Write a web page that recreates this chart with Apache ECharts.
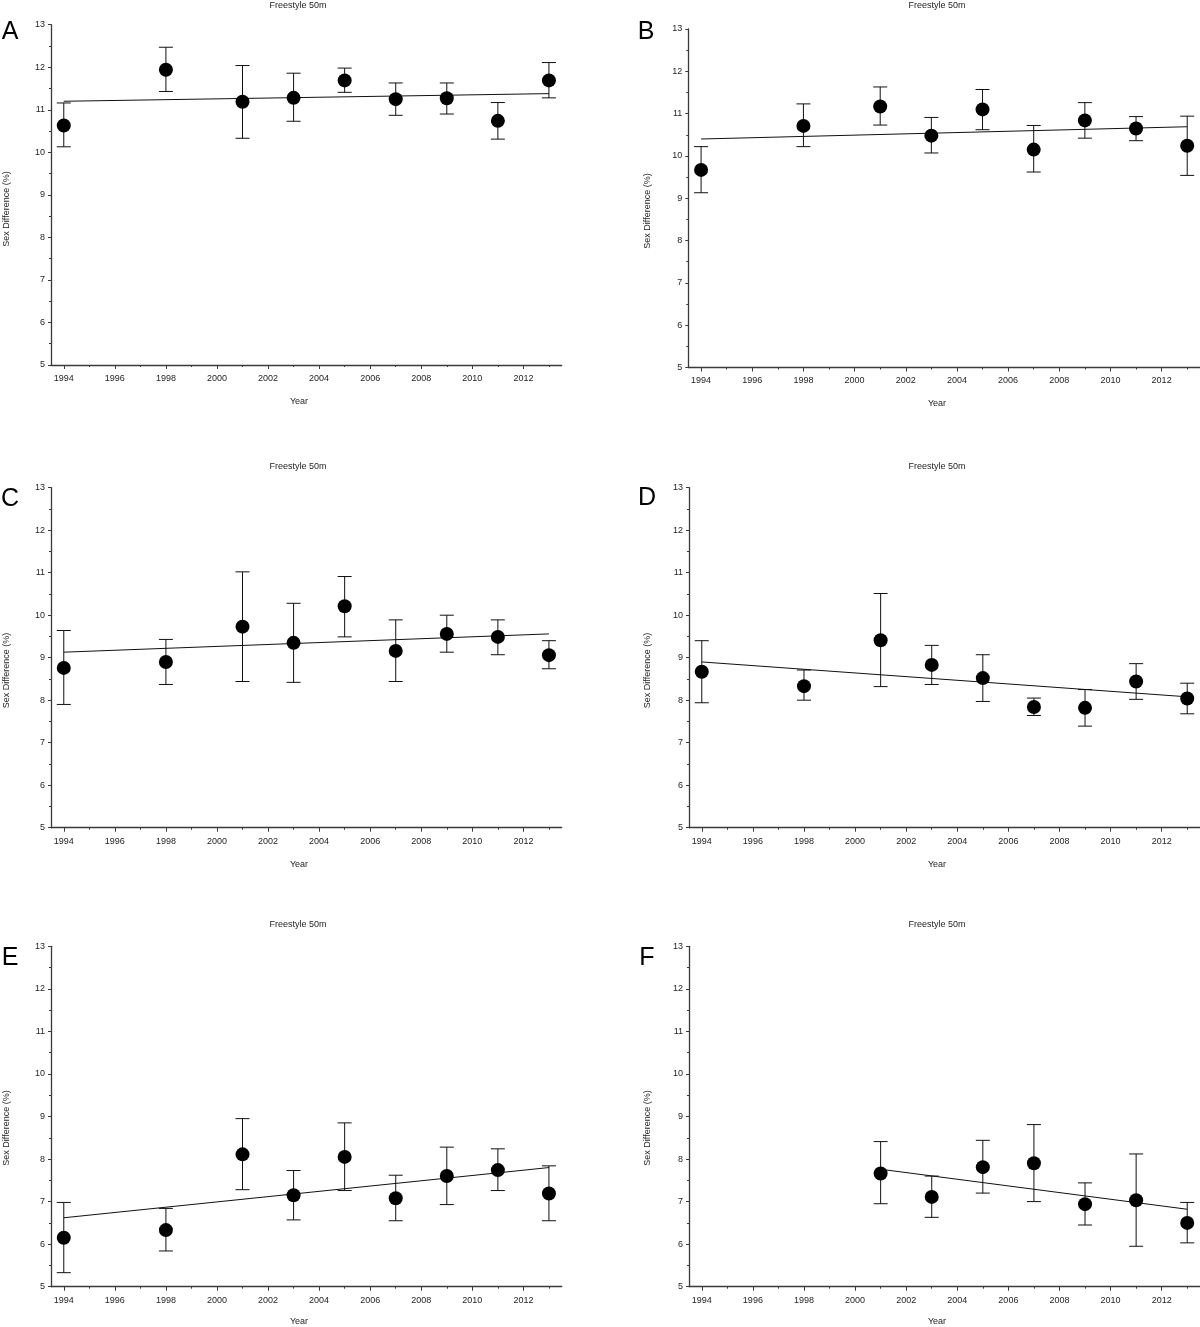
<!DOCTYPE html>
<html>
<head>
<meta charset="utf-8">
<script src="https://cdn.jsdelivr.net/npm/echarts@6/dist/echarts.min.js"></script>
<style>
html,body{margin:0;padding:0;background:#fff;}
#chart{width:1200px;height:1327px;}
</style>
</head>
<body>
<div id="chart"></div>
<script>
// ---- data ----
const yearsAll = [1994, 1998, 2001, 2003, 2005, 2007, 2009, 2011, 2013];
const yearsF = [2001, 2003, 2005, 2007, 2009, 2011, 2013];
const xLabelYears = [1994, 1996, 1998, 2000, 2002, 2004, 2006, 2008, 2010, 2012];
const xMinorYears = [1995, 1997, 1999, 2001, 2003, 2005, 2007, 2009, 2011, 2013];

const meanA = [10.63, 11.94, 11.19, 11.28, 11.69, 11.25, 11.27, 10.74, 11.69];
const lowA  = [10.13, 11.43, 10.33, 10.73, 11.41, 10.87, 10.90, 10.31, 11.28];
const highA = [11.16, 12.47, 12.04, 11.86, 11.98, 11.63, 11.63, 11.17, 12.11];
const fitA  = [11.20, 11.38];

const meanB = [9.67, 10.71, 11.17, 10.48, 11.10, 10.15, 10.84, 10.65, 10.24];
const lowB  = [9.13, 10.22, 10.73, 10.07, 10.62, 9.62, 10.42, 10.36, 9.54];
const highB = [10.22, 11.23, 11.63, 10.91, 11.57, 10.72, 11.26, 10.93, 10.94];
const fitB  = [10.40, 10.69];

const meanC = [8.76, 8.90, 9.73, 9.35, 10.21, 9.16, 9.56, 9.49, 9.06];
const lowC  = [7.90, 8.37, 8.44, 8.42, 9.49, 8.44, 9.13, 9.07, 8.74];
const highC = [9.64, 9.43, 11.02, 10.28, 10.91, 9.89, 10.00, 9.89, 9.40];
const fitC  = [9.13, 9.56];

const meanD = [8.67, 8.33, 9.41, 8.83, 8.52, 7.84, 7.82, 8.44, 8.04];
const lowD  = [7.94, 8.00, 8.32, 8.37, 7.97, 7.64, 7.39, 8.02, 7.68];
const highD = [9.40, 8.71, 10.51, 9.29, 9.07, 8.05, 8.25, 8.86, 8.40];
const fitD  = [8.90, 8.08];

const meanE = [6.15, 6.33, 8.11, 7.15, 8.05, 7.08, 7.60, 7.74, 7.19];
const lowE  = [5.33, 5.84, 7.28, 6.57, 7.26, 6.55, 6.93, 7.26, 6.55];
const highE = [6.98, 6.84, 8.95, 7.73, 8.85, 7.62, 8.28, 8.24, 7.84];
const fitE  = [6.62, 7.80];

const meanF = [7.66, 7.11, 7.81, 7.90, 6.94, 7.03, 6.50];
const lowF  = [6.95, 6.63, 7.20, 7.00, 6.45, 5.95, 6.03];
const highF = [8.41, 7.60, 8.44, 8.81, 7.44, 8.12, 6.98];
const fitF  = [7.76, 6.82];

const panelLetters = ['A', 'B', 'C', 'D', 'E', 'F'];
const panelTitle = 'Freestyle 50m';
const xName = 'Year';
const yName = 'Sex Difference (%)';

// ---- layout ----
const FONT = '"Liberation Sans", Arial, sans-serif';
const TXT = '#1e1e1e';
const panels = [
  {years: yearsAll, mean: meanA, low: lowA, high: highA, fit: fitA,
   grid: {left: 51, top: 24.7, width: 510.7, height: 340.3}, title: [298, 5.5], xlab: [299, 401.7], ylab: [7, 209], letter: [10, 32]},
  {years: yearsAll, mean: meanB, low: lowB, high: highB, fit: fitB,
   grid: {left: 688.3, top: 29, width: 513, height: 338.5}, title: [937, 5.5], xlab: [937, 404], ylab: [648, 211], letter: [646, 32]},
  {years: yearsAll, mean: meanC, low: lowC, high: highC, fit: fitC,
   grid: {left: 51, top: 487.7, width: 510.7, height: 340}, title: [298, 466.7], xlab: [299, 864.3], ylab: [7, 670.5], letter: [10, 499]},
  {years: yearsAll, mean: meanD, low: lowD, high: highD, fit: fitD,
   grid: {left: 689, top: 487.7, width: 512, height: 340}, title: [937, 466.7], xlab: [937, 864.3], ylab: [648, 670.5], letter: [647, 498]},
  {years: yearsAll, mean: meanE, low: lowE, high: highE, fit: fitE,
   grid: {left: 51, top: 946.3, width: 510.7, height: 340.4}, title: [298, 925], xlab: [299, 1321.7], ylab: [7, 1128], letter: [10, 958]},
  {years: yearsF, mean: meanF, low: lowF, high: highF, fit: fitF,
   grid: {left: 689, top: 946.3, width: 512, height: 340.4}, title: [937, 925], xlab: [937, 1321.7], ylab: [648, 1128], letter: [647, 958]}
];

const grids = [], xAxes = [], yAxes = [], series = [], graphics = [];
const axisLineStyle = {color: '#3a3a3a', width: 1.3};

panels.forEach((p, i) => {
  grids.push(Object.assign({containLabel: false}, p.grid));
  xAxes.push({
    type: 'value', gridIndex: i, min: 1993.5, max: 2013.5, position: 'bottom',
    axisLine: {show: true, onZero: false, lineStyle: axisLineStyle},
    axisTick: {show: true, inside: false, length: 4, customValues: xLabelYears, lineStyle: {color: '#3a3a3a', width: 1}},
    axisLabel: {show: true, customValues: xLabelYears, margin: 9, fontSize: 9, fontFamily: FONT, color: TXT, formatter: v => String(v)},
    splitLine: {show: false}
  });
  xAxes.push({
    type: 'value', gridIndex: i, min: 1993.5, max: 2013.5, position: 'bottom',
    axisLine: {show: false, onZero: false},
    axisTick: {show: true, inside: false, length: 2, customValues: xMinorYears, lineStyle: {color: '#3a3a3a', width: 1}},
    axisLabel: {show: false},
    splitLine: {show: false}
  });
  yAxes.push({
    type: 'value', gridIndex: i, min: 5, max: 13, interval: 1,
    axisLine: {show: true, onZero: false, lineStyle: axisLineStyle},
    axisTick: {show: true, inside: false, length: 3, lineStyle: {color: '#3a3a3a', width: 1}},
    minorTick: {show: true, splitNumber: 2, length: 2, lineStyle: {color: '#3a3a3a', width: 1}},
    axisLabel: {show: true, margin: 6, fontSize: 9, fontFamily: FONT, color: TXT},
    splitLine: {show: false}, minorSplitLine: {show: false}
  });
  const xi = i * 2;
  // error bars
  series.push({
    type: 'custom', xAxisIndex: xi, yAxisIndex: i, z: 2,
    data: p.years.map((y, k) => [y, p.low[k], p.high[k]]),
    renderItem: (params, api) => {
      const x = api.value(0);
      const top = api.coord([x, api.value(2)]);
      const bot = api.coord([x, api.value(1)]);
      const w = 7;
      const st = {stroke: '#111', lineWidth: 1};
      return {type: 'group', children: [
        {type: 'line', shape: {x1: top[0], y1: top[1], x2: bot[0], y2: bot[1]}, style: st},
        {type: 'line', shape: {x1: top[0] - w, y1: top[1], x2: top[0] + w, y2: top[1]}, style: st},
        {type: 'line', shape: {x1: bot[0] - w, y1: bot[1], x2: bot[0] + w, y2: bot[1]}, style: st}
      ]};
    }
  });
  // regression line
  series.push({
    type: 'line', xAxisIndex: xi, yAxisIndex: i, z: 3, symbol: 'none', silent: true,
    data: [[p.years[0], p.fit[0]], [p.years[p.years.length - 1], p.fit[1]]],
    lineStyle: {color: '#111', width: 1}
  });
  // means
  series.push({
    type: 'scatter', xAxisIndex: xi, yAxisIndex: i, z: 4, symbol: 'circle', symbolSize: 14,
    itemStyle: {color: '#000', opacity: 1},
    data: p.years.map((y, k) => [y, p.mean[k]])
  });
  // texts
  graphics.push({type: 'text', x: p.title[0], y: p.title[1], style: {text: panelTitle, font: '9px ' + FONT, fill: TXT, textAlign: 'center', textVerticalAlign: 'middle'}});
  graphics.push({type: 'text', x: p.xlab[0], y: p.xlab[1], style: {text: xName, font: '9px ' + FONT, fill: TXT, textAlign: 'center', textVerticalAlign: 'middle'}});
  graphics.push({type: 'text', x: p.ylab[0], y: p.ylab[1], rotation: Math.PI / 2, style: {text: yName, font: '9px ' + FONT, fill: TXT, textAlign: 'center', textVerticalAlign: 'middle'}});
  graphics.push({type: 'text', x: p.letter[0], y: p.letter[1], style: {text: panelLetters[i], font: '25px ' + FONT, fill: '#000', textAlign: 'center', textVerticalAlign: 'middle'}});
});

const chart = echarts.init(document.getElementById('chart'), null, {renderer: 'canvas'});
chart.setOption({
  animation: false,
  backgroundColor: '#fff',
  grid: grids,
  xAxis: xAxes,
  yAxis: yAxes,
  series: series,
  graphic: graphics
});
</script>
</body>
</html>
